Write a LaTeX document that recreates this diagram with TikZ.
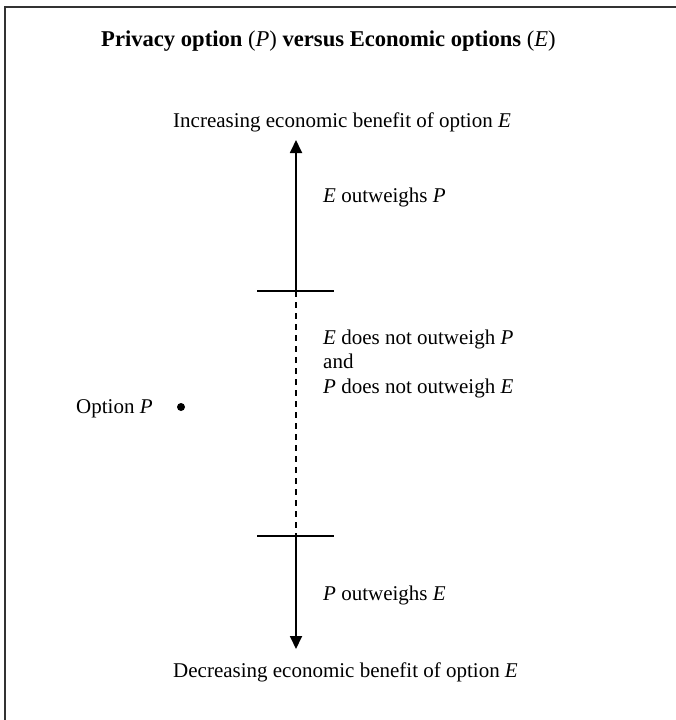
\documentclass[tikz,border=0pt]{standalone}
\usepackage{fontspec}
\setmainfont{Liberation Serif}
\usetikzlibrary{arrows.meta}
\begin{document}
\begin{tikzpicture}[x=1pt,y=-1pt,
  lbl/.style={font=\fontsize{21}{24.5}\selectfont, inner sep=0pt, anchor=base west, align=left},
  ttl/.style={font=\fontsize{22.6}{26}\selectfont\bfseries, inner sep=0pt, anchor=base west},
  axis/.style={line width=1.8pt, -{Triangle[length=13pt,width=12pt]}},
  tick/.style={line width=1.3pt},
  dsh/.style={line width=1.1pt, dash pattern=on 6pt off 5pt},
  frame/.style={line width=2pt, black!80}]
\useasboundingbox (0,0) rectangle (676,720);
\draw[frame] (5,730) -- (5,7) -- (690,7);
\node[ttl] (title) at (101,46) {Privacy option {\mdseries(\textit{P})} versus Economic options {\mdseries(\textit{E})}};
\node[lbl] (inc) at (173,127) {Increasing economic benefit of option \textit{E}};
\node[lbl] (dec) at (173,677) {Decreasing economic benefit of option \textit{E}};
\coordinate (top) at (296,140);
\coordinate (bot) at (296,649);
\coordinate (t1) at (296,291);
\coordinate (t2) at (296,536);
\coordinate (t1l) at (257,291);
\coordinate (t1r) at (334,291);
\coordinate (t2l) at (257,536);
\coordinate (t2r) at (334,536);
\draw[axis] (t1) -- (top);
\draw[axis] (t2) -- (bot);
\draw[dsh] (t1) -- (t2);
\draw[tick] (t1l) -- (t1r);
\draw[tick] (t2l) -- (t2r);
\node[lbl] (eout) at (323,202) {\textit{E} outweighs \textit{P}};
\node[lbl] (mid) at (323,393) {\textit{E} does not outweigh \textit{P}\\and\\\textit{P} does not outweigh \textit{E}};
\node[lbl] (pout) at (323,600) {\textit{P} outweighs \textit{E}};
\node[lbl] (optp) at (76,413) {Option \textit{P}};
\node[circle, fill=black, inner sep=0pt, minimum size=8pt] (dot) at (181,407) {};
\end{tikzpicture}
\end{document}
